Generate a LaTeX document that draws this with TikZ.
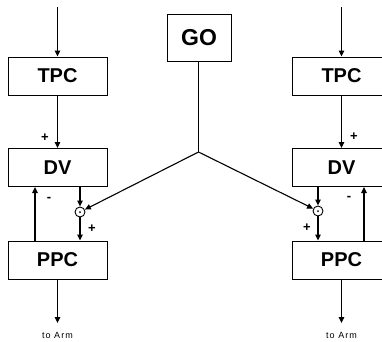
\documentclass[tikz,border=0pt]{standalone}
\usepackage{fontspec}
\setmainfont{Liberation Sans}
\usetikzlibrary{arrows.meta}
\begin{document}
\begin{tikzpicture}[x=1pt,y=-1pt,
  box/.style={draw,line width=1pt,minimum width=99pt,minimum height=38pt,inner sep=0pt,font=\fontsize{20}{20}\selectfont\bfseries},
  gobox/.style={draw,line width=1pt,minimum width=64pt,minimum height=47pt,inner sep=0pt,font=\fontsize{23}{23}\selectfont\bfseries},
  sum/.style={draw,circle,line width=0.9pt,minimum size=10pt,inner sep=0pt},
  wire/.style={line width=1.1pt},
  arr/.style={wire,-{Triangle[length=6pt,width=5.5pt]}},
  sign/.style={font=\fontsize{13}{13}\selectfont\bfseries,inner sep=0pt},
  armlabel/.style={font=\fontsize{9}{9}\selectfont\addfontfeature{LetterSpace=12},inner sep=0pt}]
\useasboundingbox (0,0) rectangle (382,341);
\clip (0,0) rectangle (382,341);

% central GO unit and branching point
\node[gobox] (go) at (199,37.5) {GO};
\coordinate (j) at (198.5,152);

% left arm channel
\node[box] (ltpc) at (57.5,76) {TPC};
\node[box] (ldv)  at (57.5,167.5) {DV};
\node[box] (lppc) at (57.5,260) {PPC};
\node[sum] (lsum) at (80,212) {};
\fill (lsum.center) circle (1pt);
\coordinate (lin)  at (57.5,7);
\coordinate (lout) at (57.5,323);

% right arm channel
\node[box] (rtpc) at (341.5,76) {TPC};
\node[box] (rdv)  at (341.5,167.5) {DV};
\node[box] (rppc) at (341.5,260) {PPC};
\node[sum] (rsum) at (318,211) {};
\fill (rsum.center) circle (1pt);
\coordinate (rin)  at (341.5,7);
\coordinate (rout) at (341.5,323);

% connectors
\draw[wire] (go.south -| j) -- (j);
\draw[arr] (j) -- (lsum);
\draw[arr] (j) -- (rsum);

\draw[arr] (lin) -- (ltpc.north);
\draw[arr] (ltpc.south) -- (ldv.north);
\draw[arr] (ldv.south -| lsum) -- (lsum.north);
\draw[arr] (lsum.south) -- (lppc.north -| lsum);
\draw[arr] ([xshift=-22.5pt]lppc.north) -- ([xshift=-22.5pt]ldv.south);
\draw[arr] (lppc.south) -- (lout);

\draw[arr] (rin) -- (rtpc.north);
\draw[arr] (rtpc.south) -- (rdv.north);
\draw[arr] (rdv.south -| rsum) -- (rsum.north);
\draw[arr] (rsum.south) -- (rppc.north -| rsum);
\draw[arr] ([xshift=22.5pt]rppc.north) -- ([xshift=22.5pt]rdv.south);
\draw[arr] (rppc.south) -- (rout);

% signs
\node[sign] at (45,138) {+};
\node[sign] at (49,199) {-};
\node[sign] at (92,229) {+};
\node[sign] at (354,137) {+};
\node[sign] at (349,198) {-};
\node[sign] at (307,228) {+};

% outputs
\node[armlabel] at (57.5,335) {to Arm};
\node[armlabel] at (341.5,335) {to Arm};
\end{tikzpicture}
\end{document}
